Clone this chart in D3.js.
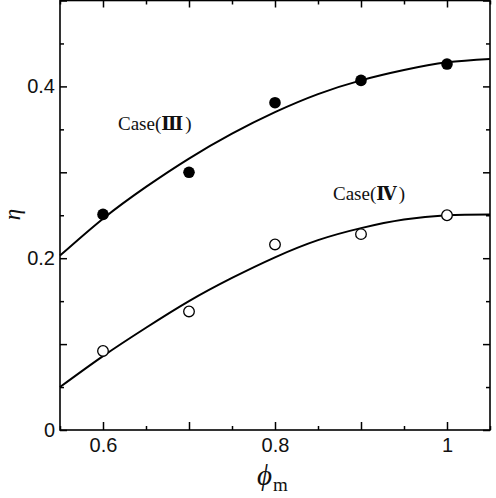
<!DOCTYPE html>
<html>
<head>
<meta charset="utf-8">
<script src="https://cdn.jsdelivr.net/npm/d3@7"></script>
<style>
    body { margin: 0; background: #fff; }
    text { fill: #111; }
</style>
</head>
<body>
<div id="chart"></div>
<script>
// measured points
var phi = [0.6, 0.7, 0.8, 0.9, 1.0];
var case3 = [0.251, 0.300, 0.381, 0.407, 0.426];
var case4 = [0.092, 0.138, 0.216, 0.228, 0.250];

// fitted curves
var fitPhi = [0.55, 0.6, 0.65, 0.7, 0.75, 0.8, 0.85, 0.9, 0.95, 1.0, 1.05];
var fit3 = [0.203, 0.246, 0.283, 0.316, 0.345, 0.370, 0.391, 0.407, 0.419, 0.428, 0.432];
var fit4 = [0.050, 0.086, 0.119, 0.150, 0.177, 0.201, 0.221, 0.235, 0.245, 0.250, 0.251];

var xMajor = [0.6, 0.7, 0.8, 0.9, 1.0];
var xMinor = [0.55, 0.65, 0.75, 0.85, 0.95, 1.05];
var xLabels = ["0.6", "", "0.8", "", "1"];
var yMajor = [0, 0.1, 0.2, 0.3, 0.4, 0.5];
var yMinor = [0.05, 0.15, 0.25, 0.35, 0.45];
var yLabels = ["0", "", "0.2", "", "0.4", ""];

var margin = { top: 0.5, right: 6, bottom: 68, left: 60 };
var width = 496 - margin.left - margin.right;
var height = 498 - margin.top - margin.bottom;

var x = d3.scaleLinear().domain([0.55, 1.05]).range([0, width]);
var y = d3.scaleLinear().domain([0, 0.5]).range([height, 0]);

var svg = d3.select("#chart").append("svg")
    .attr("width", 496)
    .attr("height", 498)
    .append("g")
    .attr("transform", "translate(" + margin.left + "," + margin.top + ")");

function styleAxis(g) {
    g.select(".domain").remove();
    g.selectAll(".tick line").attr("stroke", "#000").attr("stroke-width", 1.5);
    g.selectAll("text")
        .style("font-family", "'Liberation Sans', Arial, sans-serif")
        .style("font-size", "20px")
        .attr("fill", "#222");
}

// bottom
svg.append("g").attr("transform", "translate(0," + height + ")")
    .call(d3.axisBottom(x).tickValues(xMinor).tickSize(-4).tickFormat(""))
    .call(styleAxis);
svg.append("g").attr("transform", "translate(0," + height + ")")
    .call(d3.axisBottom(x).tickValues(xMajor).tickSize(-8).tickPadding(8)
        .tickFormat(function(d, i) { return xLabels[i]; }))
    .call(styleAxis);
// top
svg.append("g")
    .call(d3.axisTop(x).tickValues(xMinor).tickSize(-4).tickFormat(""))
    .call(styleAxis);
svg.append("g")
    .call(d3.axisTop(x).tickValues(xMajor).tickSize(-7).tickFormat(""))
    .call(styleAxis);
// left
svg.append("g")
    .call(d3.axisLeft(y).tickValues(yMinor).tickSize(-4).tickFormat(""))
    .call(styleAxis);
svg.append("g")
    .call(d3.axisLeft(y).tickValues(yMajor).tickSize(-7).tickPadding(5)
        .tickFormat(function(d, i) { return yLabels[i]; }))
    .call(styleAxis);
// right
svg.append("g").attr("transform", "translate(" + width + ",0)")
    .call(d3.axisRight(y).tickValues(yMinor).tickSize(-4).tickFormat(""))
    .call(styleAxis);
svg.append("g").attr("transform", "translate(" + width + ",0)")
    .call(d3.axisRight(y).tickValues(yMajor).tickSize(-7).tickFormat(""))
    .call(styleAxis);

// frame
svg.append("rect")
    .attr("width", width).attr("height", height)
    .attr("fill", "none").attr("stroke", "#000").attr("stroke-width", 1.6);

var line = d3.line()
    .curve(d3.curveNatural)
    .x(function(d) { return x(d[0]); })
    .y(function(d) { return y(d[1]); });

[fit3, fit4].forEach(function(f) {
    svg.append("path")
        .datum(fitPhi.map(function(p, i) { return [p, f[i]]; }))
        .attr("fill", "none")
        .attr("stroke", "#000")
        .attr("stroke-width", 2)
        .attr("d", line);
});

svg.selectAll(".c3").data(phi).enter().append("circle")
    .attr("class", "c3")
    .attr("cx", function(d) { return x(d); })
    .attr("cy", function(d, i) { return y(case3[i]); })
    .attr("r", 5.8)
    .attr("fill", "#000");

svg.selectAll(".c4").data(phi).enter().append("circle")
    .attr("class", "c4")
    .attr("cx", function(d) { return x(d); })
    .attr("cy", function(d, i) { return y(case4[i]); })
    .attr("r", 5.3)
    .attr("fill", "#fff")
    .attr("stroke", "#000")
    .attr("stroke-width", 1.3);

// case labels
function caseLabel(px, py, num) {
    var t = svg.append("text")
        .attr("x", px - margin.left).attr("y", py)
        .style("font-family", "'Liberation Serif', 'Times New Roman', serif")
        .style("font-size", "19px")
        .attr("fill", "#222");
    t.append("tspan").text("Case(");
    t.append("tspan").text(num)
        .style("font-family", "'DejaVu Serif', 'Noto Sans CJK JP', serif")
        .style("font-weight", "bold")
        .style("font-size", "18px");
    t.append("tspan").text(")").attr("dx", 2);
}
caseLabel(118, 129.5, "Ⅲ");
caseLabel(333, 199, "Ⅳ");

// axis titles
svg.append("text")
    .attr("transform", "translate(" + (12 - margin.left) + ",214) rotate(-90)")
    .attr("text-anchor", "middle")
    .attr("dominant-baseline", "central")
    .style("font-family", "'Liberation Serif', serif")
    .style("font-style", "italic")
    .style("font-size", "23px")
    .text("η");

var xt = svg.append("text")
    .attr("x", 257 - margin.left).attr("y", 484)
    .style("font-family", "'Liberation Serif', serif")
    .style("font-size", "29px");
xt.append("tspan").text("ϕ").style("font-style", "italic");
xt.append("tspan").text("m").attr("dy", 6).attr("dx", 1).style("font-size", "19px");
</script>
</body>
</html>
